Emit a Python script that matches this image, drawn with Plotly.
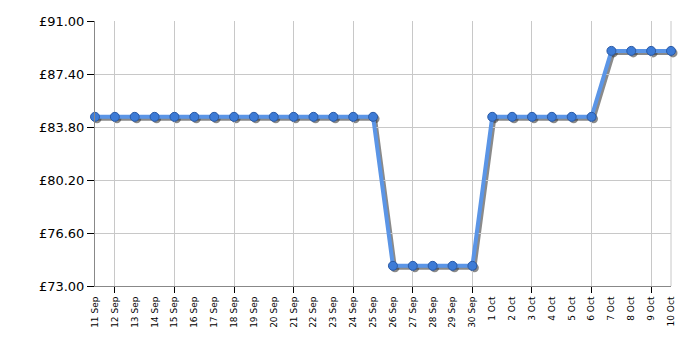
import plotly.graph_objects as go

dates = ["2024-09-11", "2024-09-12", "2024-09-13", "2024-09-14", "2024-09-15",
         "2024-09-16", "2024-09-17", "2024-09-18", "2024-09-19", "2024-09-20",
         "2024-09-21", "2024-09-22", "2024-09-23", "2024-09-24", "2024-09-25",
         "2024-09-26", "2024-09-27", "2024-09-28", "2024-09-29", "2024-09-30",
         "2024-10-01", "2024-10-02", "2024-10-03", "2024-10-04", "2024-10-05",
         "2024-10-06", "2024-10-07", "2024-10-08", "2024-10-09", "2024-10-10"]
prices = [84.49, 84.49, 84.49, 84.49, 84.49, 84.49, 84.49, 84.49, 84.49, 84.49,
          84.49, 84.49, 84.49, 84.49, 84.49,
          74.37, 74.37, 74.37, 74.37, 74.37,
          84.49, 84.49, 84.49, 84.49, 84.49, 84.49,
          88.97, 88.97, 88.97, 88.97]
y_ticks = [73.00, 76.60, 80.20, 83.80, 87.40, 91.00]
y_labels = ["£%.2f" % v for v in y_ticks]

W, H = 700, 350
L, R, T, B = 95, 27, 21, 62
pw = W - L - R
ph = H - T - B
dx = 2 / pw
dy = 2 / ph

fig = go.Figure()
# shadow (drawn first, on the lower subplot)
fig.add_trace(go.Scatter(
    x=dates, y=prices, xaxis="x", yaxis="y", mode="lines+markers",
    line=dict(color="rgba(60,60,60,0.6)", width=4),
    marker=dict(size=9, color="rgba(60,60,60,0.6)"),
    cliponaxis=False, hoverinfo="skip", showlegend=False))
# main series
fig.add_trace(go.Scatter(
    x=dates, y=prices, xaxis="x2", yaxis="y2", mode="lines+markers",
    line=dict(color="#5b95e6", width=4),
    marker=dict(size=9, color="#3d7bd6", line=dict(color="#2a5aa6", width=1)),
    cliponaxis=False, showlegend=False))

xr = [dates[0], dates[-1]]
fig.update_layout(
    width=W, height=H,
    margin=dict(l=L, r=R, t=T, b=B),
    paper_bgcolor="white", plot_bgcolor="rgba(0,0,0,0)",
    font=dict(family="DejaVu Sans", color="black"),
    xaxis=dict(type="date", range=xr, domain=[dx, 1], anchor="y",
               visible=False),
    yaxis=dict(range=[73, 91], domain=[0, 1 - dy], anchor="x",
               visible=False),
    xaxis2=dict(
        type="date", range=xr, domain=[0, 1 - dx], anchor="y2",
        tickmode="array", tickvals=dates, tickformat="%-d %b",
        tickangle=-90, tickfont=dict(size=9),
        ticks="outside", ticklen=6, tickcolor="rgba(0,0,0,0)",
        showgrid=False, showline=True, linecolor="#888888", linewidth=1,
        mirror=False, zeroline=False,
        minor=dict(tickmode="array", tickvals=dates[1::3], showgrid=True,
                   gridcolor="#c8c8c8", gridwidth=1, ticks="outside",
                   ticklen=6, tickcolor="black"),
    ),
    yaxis2=dict(
        range=[73, 91], domain=[dy, 1], anchor="x2",
        tickmode="array", tickvals=y_ticks, ticktext=y_labels,
        tickfont=dict(size=13),
        ticks="outside", ticklen=7, tickcolor="black",
        showgrid=True, gridcolor="#c8c8c8", gridwidth=1,
        showline=True, linecolor="#888888", linewidth=1, mirror=False,
        zeroline=False,
    ),
    shapes=[dict(type="line", xref="x2 domain", yref="y2 domain",
                 x0=1, x1=1, y0=0, y1=1, layer="below",
                 line=dict(color="#c8c8c8", width=1))],
)

fig.write_html("out.html")
